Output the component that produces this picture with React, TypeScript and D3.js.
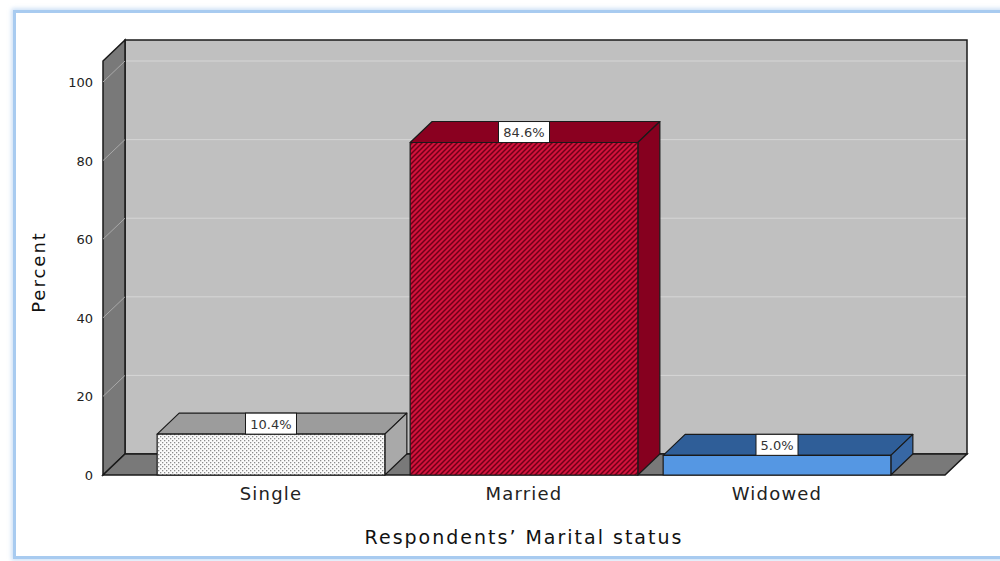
import React from "react";
import * as d3 from "d3";

const categories = ["Single", "Married", "Widowed"];
const percents = [10.4, 84.6, 5.0];
const valueLabels = ["10.4%", "84.6%", "5.0%"];
const yTicks = [0, 20, 40, 60, 80, 100];

const W = 1000;
const H = 561;
const DX = 22; // depth offset of the 3d box
const DY = 21;

const front = { left: 103, right: 945, bottom: 475, top100: 82 };

const barStyles = [
  { front: "url(#dots)", top: "#9c9c9c", side: "#a9a9a9" },
  { front: "url(#hatch)", top: "#8a0020", side: "#86001f" },
  { front: "#5597e3", top: "#2f5e98", side: "#3767a4" },
];

const App = () => {
  const x = d3
    .scaleBand<string>()
    .domain(categories)
    .range([front.left, front.right])
    .paddingInner(0.1)
    .paddingOuter(0.214);

  const y = d3
    .scaleLinear()
    .domain([0, 100])
    .range([front.bottom, front.top100]);

  const wallTop = y(100) - 2 * DY;
  const backLeft = front.left + DX;
  const backRight = front.right + DX;
  const backBottom = front.bottom - DY;
  const uiFont = "'DejaVu Sans', sans-serif";

  return (
    <svg
      width={W}
      height={H}
      style={{ position: "fixed", left: 0, top: 0, background: "#fff" }}
    >
      <defs>
        <pattern id="dots" width="4" height="4" patternUnits="userSpaceOnUse">
          <rect width="4" height="4" fill="#fbfbfb" />
          <rect x="0" y="0" width="1.3" height="1.3" fill="#8c8c8c" />
          <rect x="2" y="2" width="1.3" height="1.3" fill="#8c8c8c" />
        </pattern>
        <pattern id="hatch" width="5" height="5" patternUnits="userSpaceOnUse">
          <rect width="5" height="5" fill="#d3123c" />
          <path
            d="M-1,1 l2,-2 M0,5 l5,-5 M4,6 l2,-2"
            stroke="#6e0018"
            strokeWidth="1.5"
          />
        </pattern>
        <filter id="glow" x="-5%" y="-5%" width="110%" height="110%">
          <feGaussianBlur stdDeviation="2" />
        </filter>
      </defs>

      {/* outer frame */}
      <rect
        x={14.5}
        y={11.5}
        width={1000}
        height={546}
        fill="none"
        stroke="#c9def5"
        strokeWidth={6}
        filter="url(#glow)"
      />
      <rect
        x={14.5}
        y={11.5}
        width={1000}
        height={546}
        fill="#fff"
        stroke="#a8cbf0"
        strokeWidth={3}
      />

      {/* back wall */}
      <rect
        x={backLeft}
        y={wallTop}
        width={backRight - backLeft}
        height={backBottom - wallTop}
        fill="#c0c0c0"
      />
      {yTicks
        .filter((t) => t > 0)
        .map((t) => (
          <line
            key={"g" + t}
            x1={backLeft}
            x2={backRight}
            y1={y(t) - DY}
            y2={y(t) - DY}
            stroke="#d6d6d6"
            strokeWidth={1}
          />
        ))}
      <rect
        x={backLeft}
        y={wallTop}
        width={backRight - backLeft}
        height={backBottom - wallTop}
        fill="none"
        stroke="#1a1a1a"
        strokeWidth={1.5}
      />

      {/* side wall */}
      <polygon
        points={`${front.left},${wallTop + DY} ${backLeft},${wallTop} ${backLeft},${backBottom} ${front.left},${front.bottom}`}
        fill="#797979"
        stroke="#1a1a1a"
        strokeWidth={1.5}
      />
      {yTicks
        .filter((t) => t > 0)
        .map((t) => (
          <line
            key={"s" + t}
            x1={front.left}
            x2={backLeft}
            y1={y(t)}
            y2={y(t) - DY}
            stroke="#a9a9a9"
            strokeWidth={1}
          />
        ))}

      {/* floor */}
      <polygon
        points={`${front.left},${front.bottom} ${front.right},${front.bottom} ${backRight},${backBottom} ${backLeft},${backBottom}`}
        fill="#797979"
        stroke="#1a1a1a"
        strokeWidth={1.5}
      />

      {/* y tick labels */}
      {yTicks.map((t) => (
        <text
          key={"t" + t}
          x={93}
          y={y(t) + 5}
          textAnchor="end"
          fontFamily={uiFont}
          fontSize={13}
          fill="#222"
        >
          {t}
        </text>
      ))}

      {/* bars */}
      {categories.map((c, i) => {
        const x0 = x(c) as number;
        const x1 = x0 + x.bandwidth();
        const yt = y(percents[i]);
        const y0 = y(0);
        const st = barStyles[i];
        return (
          <g key={c} stroke="#1a1a1a" strokeWidth={1.2} strokeLinejoin="round">
            <polygon
              points={`${x0},${yt} ${x0 + DX},${yt - DY} ${x1 + DX},${yt - DY} ${x1},${yt}`}
              fill={st.top}
            />
            <polygon
              points={`${x1},${yt} ${x1 + DX},${yt - DY} ${x1 + DX},${y0 - DY} ${x1},${y0}`}
              fill={st.side}
            />
            <rect x={x0} y={yt} width={x1 - x0} height={y0 - yt} fill={st.front} />
          </g>
        );
      })}

      {/* value labels */}
      {categories.map((c, i) => {
        const cx = (x(c) as number) + x.bandwidth() / 2;
        const yt = y(percents[i]);
        const bw = 9 * valueLabels[i].length + 6;
        return (
          <g key={"l" + c}>
            <rect
              x={cx - bw / 2}
              y={yt - DY}
              width={bw}
              height={DY}
              fill="#fff"
              stroke="#1a1a1a"
              strokeWidth={1}
            />
            <text
              x={cx}
              y={yt - DY / 2 + 5}
              textAnchor="middle"
              fontFamily={uiFont}
              fontSize={13}
              fill="#333"
            >
              {valueLabels[i]}
            </text>
          </g>
        );
      })}

      {/* category labels */}
      {categories.map((c) => (
        <text
          key={"c" + c}
          x={(x(c) as number) + x.bandwidth() / 2}
          y={500}
          textAnchor="middle"
          fontFamily={uiFont}
          fontSize={18}
          letterSpacing={1.2}
          fill="#222"
        >
          {c}
        </text>
      ))}

      {/* axis titles */}
      <text
        x={524}
        y={544}
        textAnchor="middle"
        fontFamily={uiFont}
        fontSize={19}
        letterSpacing={2}
        fill="#111"
      >
        Respondents’ Marital status
      </text>
      <text
        transform={`translate(45, ${272}) rotate(-90)`}
        textAnchor="middle"
        fontFamily={uiFont}
        fontSize={18}
        letterSpacing={2}
        fill="#111"
      >
        Percent
      </text>
    </svg>
  );
};

export default App;
